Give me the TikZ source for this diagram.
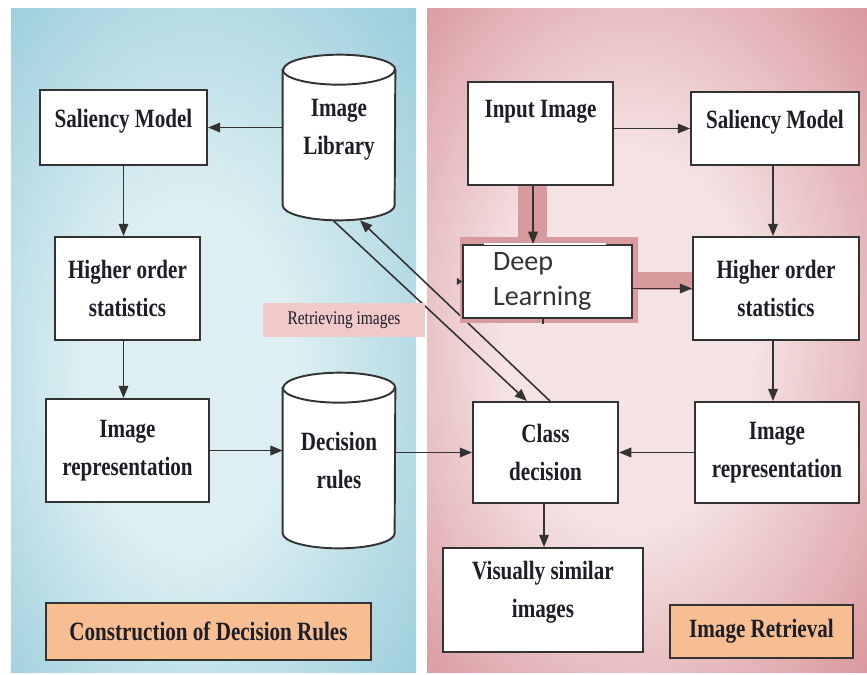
\documentclass[tikz,border=0pt]{standalone}
\usepackage{fontspec}
\setmainfont{Liberation Serif}
\newfontfamily\boxfont[FakeStretch=0.8]{Liberation Serif}
\newfontfamily\dlfont{Carlito}
\usetikzlibrary{arrows.meta}
\definecolor{panelblue}{HTML}{9CCEDB}
\definecolor{panelbluelt}{HTML}{DDEFF3}
\definecolor{panelred}{HTML}{D8959A}
\definecolor{panelredlt}{HTML}{F5E3E4}
\definecolor{boxline}{HTML}{333333}
\definecolor{boxtext}{HTML}{1E1E28}
\definecolor{tagorange}{HTML}{F7BE91}
\definecolor{tagpink}{HTML}{F0C9C9}
\definecolor{glowred}{HTML}{D89A9C}
\pgfdeclareradialshading{bluepanel}{\pgfpoint{-4bp}{-4bp}}{color(0bp)=(panelbluelt); color(13bp)=(panelbluelt);
  color(36bp)=(panelblue); color(50bp)=(panelblue)}
\pgfdeclareradialshading{redpanel}{\pgfpoint{-3bp}{0bp}}{color(0bp)=(panelredlt); color(14bp)=(panelredlt);
  color(37bp)=(panelred); color(50bp)=(panelred)}
\pgfdeclarelayer{panel}
\pgfdeclarelayer{shade}
\pgfsetlayers{panel,shade,main}

\tikzset{
  box/.style={draw=boxline, line width=1.1pt, fill=white, align=center, text=boxtext,
    inner sep=2pt, font=\boxfont\bfseries\fontsize{15}{21.5}\selectfont},
  drum/.style={inner sep=0pt, align=center, text=boxtext,
    font=\boxfont\bfseries\fontsize{15}{21.5}\selectfont},
  tag/.style={box, fill=tagorange},
  arr/.style={-{Triangle[length=7pt,width=5.5pt]}, line width=0.9pt, draw=boxline},
  cylline/.style={draw=boxline, line width=1.1pt},
}

% cylinder outline inside the box of a drum node
\newcommand{\drumshape}[1]{%
  \draw[cylline, fill=white] ([yshift=-0.3cm]#1.north west) -- ([yshift=0.3cm]#1.south west)
    arc[start angle=180, end angle=360, x radius=1.12cm, y radius=0.3cm]
    -- ([yshift=-0.3cm]#1.north east)
    arc[start angle=0, end angle=180, x radius=1.12cm, y radius=0.3cm] -- cycle;
  \draw[cylline] ([yshift=-0.3cm]#1.north west)
    arc[start angle=180, end angle=360, x radius=1.12cm, y radius=0.3cm];}

\begin{document}
\begin{tikzpicture}[x=0.02cm, y=-0.02cm]
  \useasboundingbox (0,0) rectangle (867,674);
  \begin{pgfonlayer}{panel}
    \fill[white] (0,0) rectangle (867,674);
    \shade[shading=bluepanel] (11,8) rectangle (416,672);
    \shade[shading=redpanel] (427,8) rectangle (867,672);
  \end{pgfonlayer}

  % left half: building the rules
  \node[box, minimum width=3.34cm, minimum height=1.5cm, text depth=10pt] (salL) at (123.5,127.5) {Saliency Model};
  \node[box, minimum width=2.9cm, minimum height=2.06cm] (hosL) at (127.5,288.5) {Higher order\\statistics};
  \node[box, minimum width=3.26cm, minimum height=2.06cm] (irL) at (127.5,450.5) {Image\\representation};
  \node[drum, minimum width=2.24cm, minimum height=3.3cm, text depth=12pt] (lib) at (339,137.5) {Image\\Library};
  \node[drum, minimum width=2.24cm, minimum height=3.5cm] (dec) at (339,460.5) {Decision\\rules};
  \node[tag, minimum width=6.5cm, minimum height=1.14cm] (ttlL) at (208.5,631.5) {Construction of Decision Rules};
  \node[fill=tagpink, minimum width=3.24cm, minimum height=0.68cm, text=boxtext,
    font=\boxfont\fontsize{11}{13}\selectfont] (ret) at (344,320) {Retrieving images};

  % right half: retrieval
  \node[box, minimum width=2.9cm, minimum height=2.06cm, text depth=27.8pt] (inp) at (540.5,133.5) {Input Image};
  \node[box, minimum width=3.36cm, minimum height=1.46cm, text depth=10pt] (salR) at (775,128.5) {Saliency Model};
  \node[box, minimum width=3.38cm, minimum height=1.46cm, align=left, text width=2.18cm, inner xsep=0.6cm,
    text=boxline, font=\dlfont\fontsize{16}{20}\selectfont] (dl) at (547.5,281.5) {Deep\\Learning};
  \node[box, minimum width=3.32cm, minimum height=2.06cm] (hosR) at (776,288.5) {Higher order\\statistics};
  \node[box, minimum width=3.28cm, minimum height=2.02cm] (irR) at (777,452.5) {Image\\representation};
  \node[box, minimum width=2.9cm, minimum height=2.02cm] (cls) at (545.5,452.5) {Class\\decision};
  \node[box, minimum width=4cm, minimum height=2.08cm, text depth=12pt] (vis) at (543,600) {Visually similar\\images};
  \node[tag, minimum width=3.66cm, minimum height=1.06cm] (ttlR) at (761.5,631.5) {Image Retrieval};
  \draw[white, line width=1.6pt] ([xshift=0.44cm]dl.north west) -- ([xshift=-0.54cm]dl.north east);

  \begin{pgfonlayer}{shade}
    \draw[arr] ([xshift=-0.12cm]lib.south) -- ([xshift=-0.37cm]cls.north);
    \draw[arr] ([xshift=0.09cm]cls.north) -- ([xshift=0.42cm]lib.south);
    \fill[glowred] (460,237) rectangle (638,323);
    \fill[glowred] (518,185) rectangle (547,237);
    \fill[glowred] (632,272) rectangle (692,290);
    \drumshape{lib}
    \drumshape{dec}
  \end{pgfonlayer}

  \draw[arr] (salL.east -| lib.west) -- (salL.east);
  \draw[arr] (salL.south) -- (salL.south |- hosL.north);
  \draw[arr] (hosL.south -| salL.south) -- (salL.south |- irL.north);
  \draw[arr] (irL.east) -- (irL.east -| dec.west);
  \draw[arr] (cls.west -| dec.east) -- (cls.west);

  \draw[arr] (inp.east |- salR.west) -- (salR.west);
  \draw[arr] ([xshift=-0.15cm]inp.south) -- ([xshift=-0.15cm]inp.south |- dl.north);
  \draw[arr] (dl.east |- hosR.west) -- (hosR.west);
  \draw[arr] ([xshift=-0.04cm]salR.south) -- ([xshift=-0.04cm]salR.south |- hosR.north);
  \draw[arr] ([xshift=-0.04cm]salR.south |- hosR.south) -- ([xshift=-0.04cm]salR.south |- irR.north);
  \draw[arr] (irR.west) -- (cls.east);
  \draw[arr] ([xshift=-0.03cm]cls.south) -- ([xshift=-0.03cm]cls.south |- vis.north);

  % stray stubs on the deep learning box
  \coordinate (dlin) at ([xshift=-0.1cm]dl.west);
  \coordinate (dltick) at ([xshift=-0.09cm, yshift=-0.1cm]dl.south);
  \draw[-{Triangle[length=3pt,width=4pt]}, line width=0.9pt, boxline] (dlin) -- (dl.west);
  \draw[line width=0.9pt, boxline] ([xshift=-0.09cm]dl.south) -- (dltick);
\end{tikzpicture}
\end{document}
